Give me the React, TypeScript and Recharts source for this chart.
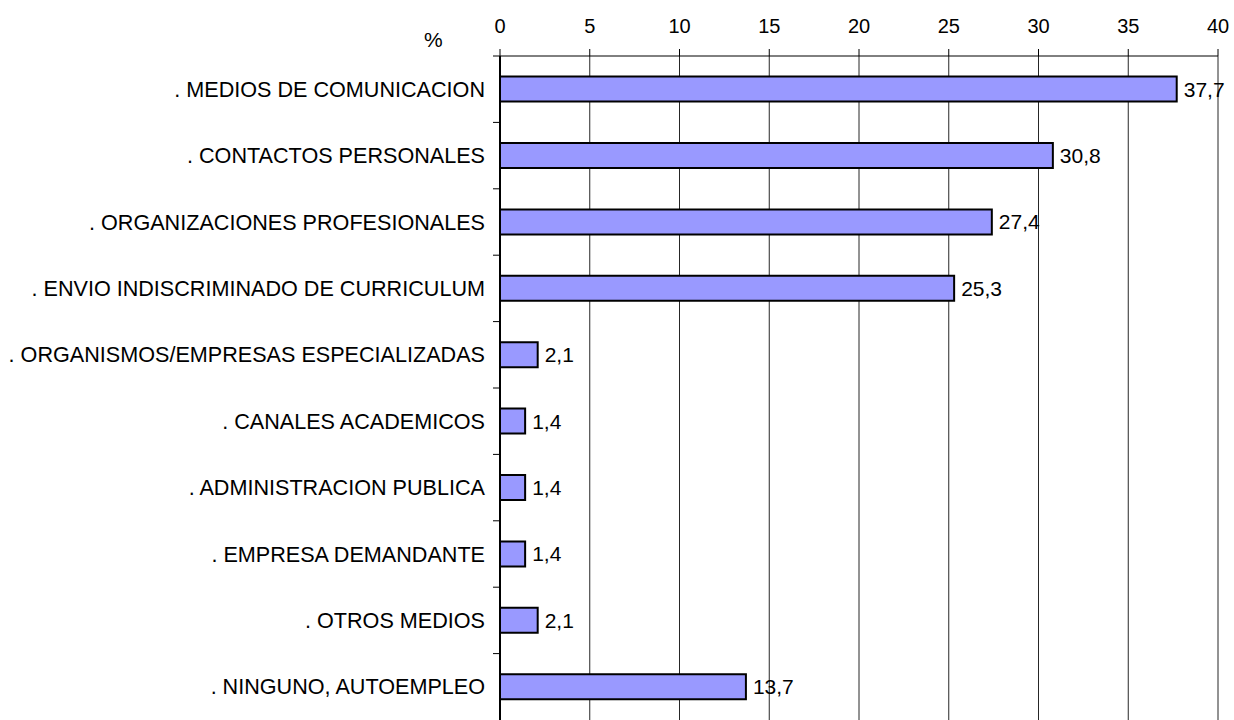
import { Bar, BarChart, CartesianGrid, LabelList, XAxis, YAxis } from 'recharts';

const categories = [
  '. MEDIOS DE COMUNICACION',
  '. CONTACTOS PERSONALES',
  '. ORGANIZACIONES PROFESIONALES',
  '. ENVIO INDISCRIMINADO DE CURRICULUM',
  '. ORGANISMOS/EMPRESAS ESPECIALIZADAS',
  '. CANALES ACADEMICOS',
  '. ADMINISTRACION PUBLICA',
  '. EMPRESA DEMANDANTE',
  '. OTROS MEDIOS',
  '. NINGUNO, AUTOEMPLEO',
];

const percentages = [37.7, 30.8, 27.4, 25.3, 2.1, 1.4, 1.4, 1.4, 2.1, 13.7];

const xTicks = [0, 5, 10, 15, 20, 25, 30, 35, 40];

const data = categories.map((name, i) => ({ name, value: percentages[i] }));

const FONT = '"Liberation Sans", Arial, sans-serif';
const TICK_SIZE = 7;
const TICK_GAP = 8;

const fmt = (v: number) => String(v).replace('.', ',');

// label at the band centre, tick mark on the band boundary above it
function CategoryTick(props: any) {
  const { x, y, payload } = props;
  const half = payload?.offset ?? 0;
  const lx = x + TICK_GAP;
  return (
    <g>
      {half > 0 && (
        <line x1={lx} x2={lx + TICK_SIZE} y1={y - half} y2={y - half} stroke="#000" strokeWidth={1} />
      )}
      <text x={x} y={y} textAnchor="end" dominantBaseline="central" fill="#000" fontSize={21.6} fontFamily={FONT}>
        {payload.value}
      </text>
    </g>
  );
}

export default function App() {
  return (
    <div style={{ position: 'relative', width: 1234, height: 720, fontFamily: FONT }}>
      <style>{'body{margin:0}'}</style>
      <div style={{ position: 'absolute', left: 424, top: 28, fontSize: 21, color: '#000' }}>%</div>
      <BarChart
        width={1234}
        height={720}
        data={data}
        layout="vertical"
        margin={{ top: 0, right: 16, bottom: 0, left: 0 }}
        barCategoryGap="31%"
      >
        <CartesianGrid horizontal={false} stroke="#000" strokeOpacity={0.85} />
        <XAxis
          type="number"
          orientation="top"
          domain={[0, 40]}
          ticks={xTicks}
          height={56}
          tickSize={TICK_SIZE}
          tickMargin={16}
          stroke="#000"
          tick={{ fill: '#000', fontSize: 20, fontFamily: FONT }}
        />
        <YAxis
          type="category"
          dataKey="name"
          width={500}
          tickSize={TICK_SIZE}
          tickMargin={TICK_GAP}
          tickLine={false}
          stroke="#000"
          strokeWidth={2}
          interval={0}
          tick={<CategoryTick />}
        />
        <Bar dataKey="value" fill="#9999ff" stroke="#000" strokeWidth={2} isAnimationActive={false}>
          <LabelList
            dataKey="value"
            position="right"
            offset={7}
            formatter={(v: any) => fmt(v)}
            fill="#000"
            fontSize={21}
            fontFamily={FONT}
          />
        </Bar>
      </BarChart>
    </div>
  );
}
